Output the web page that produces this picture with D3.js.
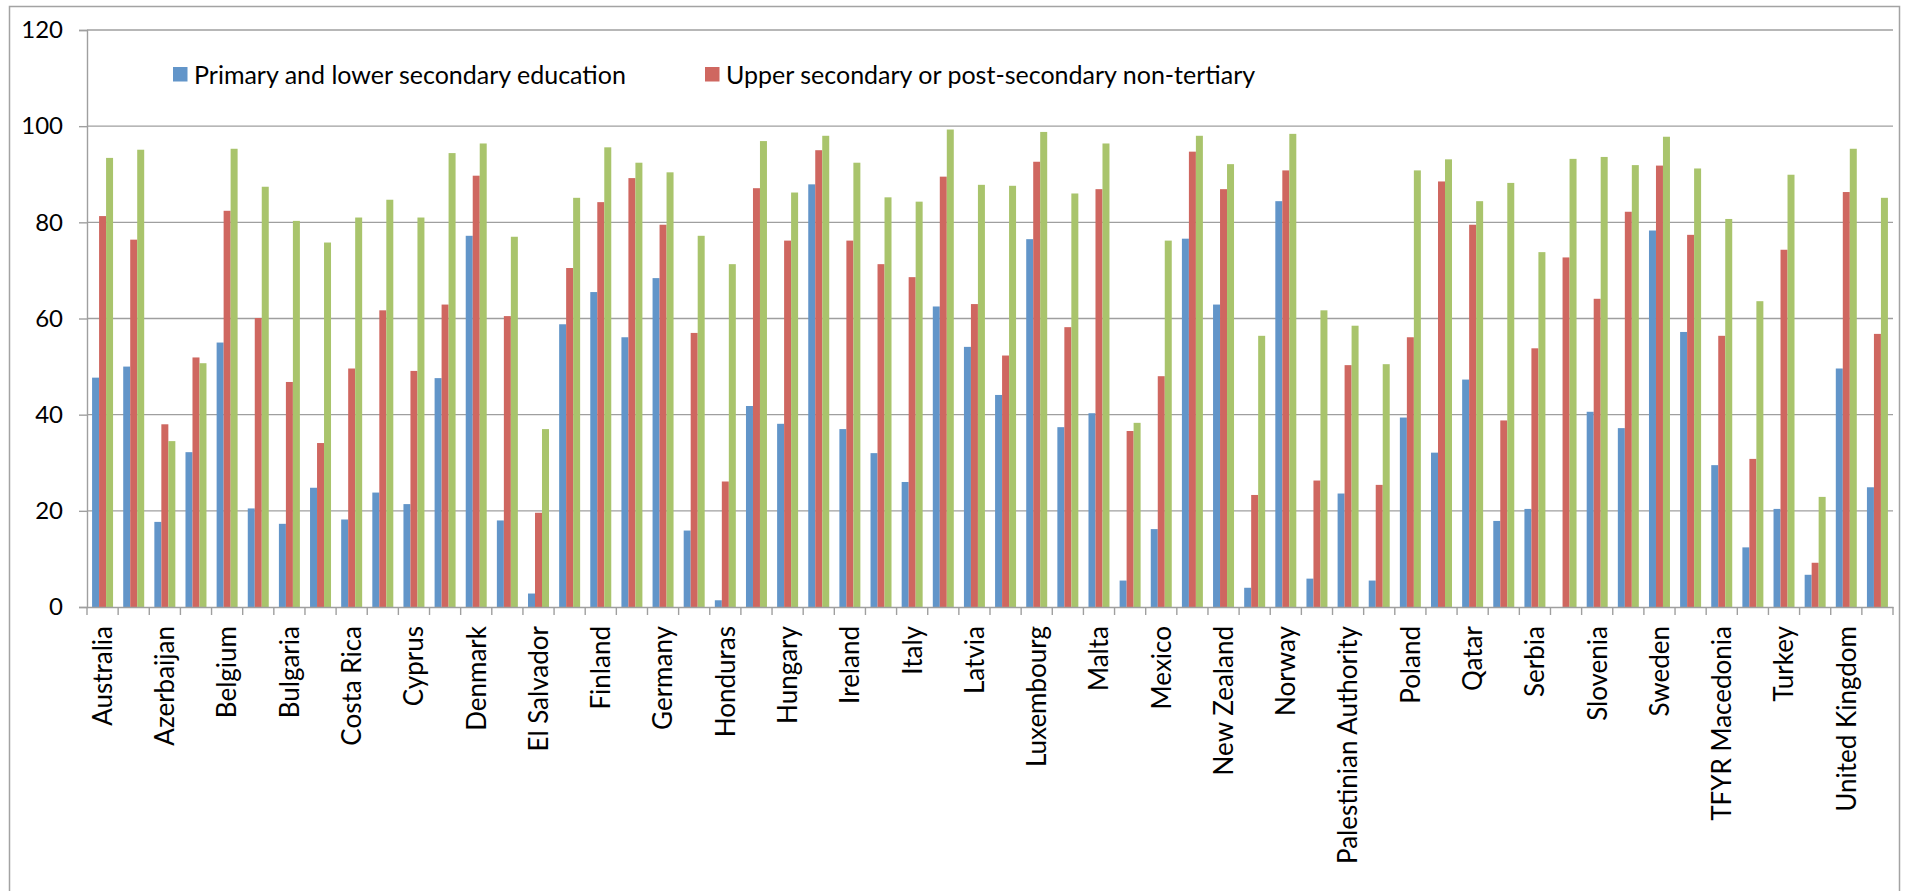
<!DOCTYPE html>
<html>
<head>
<meta charset="utf-8">
<script src="https://cdn.jsdelivr.net/npm/d3@7"></script>
<style>
  html, body { margin: 0; padding: 0; background: #ffffff; }
  svg { display: block; }
  text { font-family: Lato, "Open Sans", sans-serif; fill: #000; }
</style>
</head>
<body>
<svg id="chart" width="1905" height="891"></svg>
<script>
// Countries (every other one is labelled on the axis)
const categories = [
  "Australia", "Austria", "Azerbaijan", "Bahrain", "Belgium", "Brazil", "Bulgaria", "Chile",
  "Costa Rica", "Croatia", "Cyprus", "Czech Republic", "Denmark", "Dominican Republic",
  "El Salvador", "Estonia", "Finland", "France", "Germany", "Greece", "Honduras",
  "Hong Kong SAR", "Hungary", "Iceland", "Ireland", "Israel", "Italy", "Japan", "Latvia",
  "Lithuania", "Luxembourg", "Malaysia", "Malta", "Mauritius", "Mexico", "Netherlands",
  "New Zealand", "Nicaragua", "Norway", "Pakistan", "Palestinian Authority", "Paraguay",
  "Poland", "Portugal", "Qatar", "Romania", "Serbia", "Slovak Republic", "Slovenia", "Spain",
  "Sweden", "Switzerland", "TFYR Macedonia", "Thailand", "Turkey", "Uganda",
  "United Kingdom", "United States"
];

// Primary and lower secondary education
const primary = [
  47.7, 50.0, 17.7, 32.2, 55.0, 20.5, 17.3, 24.8, 18.2, 23.8,
  21.4, 47.6, 77.2, 18.0, 2.8, 58.8, 65.5, 56.1, 68.4, 15.9,
  1.4, 41.8, 38.1, 87.9, 37.0, 32.0, 26.0, 62.5, 54.1, 44.1,
  76.5, 37.4, 40.3, 5.5, 16.2, 76.6, 62.9, 4.0, 84.4, 5.9,
  23.6, 5.5, 39.4, 32.1, 47.3, 17.9, 20.4, null, 40.6, 37.2,
  78.3, 57.2, 29.5, 12.4, 20.4, 6.7, 49.6, 24.9
];

// Upper secondary or post-secondary non-tertiary
const upper = [
  81.3, 76.4, 38.0, 51.9, 82.4, 60.1, 46.8, 34.1, 49.6, 61.7,
  49.1, 62.9, 89.7, 60.5, 19.6, 70.5, 84.2, 89.2, 79.5, 57.0,
  26.1, 87.1, 76.2, 95.0, 76.2, 71.3, 68.6, 89.5, 63.0, 52.3,
  92.6, 58.2, 86.9, 36.6, 48.0, 94.7, 86.9, 23.3, 90.8, 26.3,
  50.3, 25.4, 56.1, 88.5, 79.5, 38.8, 53.8, 72.7, 64.1, 82.2,
  91.8, 77.4, 56.4, 30.8, 74.3, 9.2, 86.3, 56.8
];

// Tertiary education
const tertiary = [
  93.4, 95.1, 34.5, 50.7, 95.3, 87.4, 80.3, 75.8, 81.0, 84.7,
  81.0, 94.4, 96.4, 77.0, 37.0, 85.1, 95.6, 92.4, 90.4, 77.2,
  71.3, 96.9, 86.2, 98.0, 92.4, 85.2, 84.3, 99.3, 87.8, 87.6,
  98.8, 86.0, 96.4, 38.3, 76.2, 98.0, 92.1, 56.4, 98.4, 61.7,
  58.5, 50.5, 90.8, 93.1, 84.4, 88.2, 73.8, 93.2, 93.6, 91.9,
  97.8, 91.2, 80.7, 63.6, 89.9, 22.9, 95.3, 85.1
];

const seriesKeys = ["primary", "upper", "tertiary"];
const seriesValues = [primary, upper, tertiary];
const seriesColors = ["#6295c9", "#cf6760", "#a9c46c"];
const legendLabels = [
  "Primary and lower secondary education",
  "Upper secondary or post-secondary non-tertiary"
];
const yTicks = [0, 20, 40, 60, 80, 100, 120];

const svg = d3.select("#chart");
const W = 1905, H = 891;
const plot = { left: 87, right: 1893, top: 30, bottom: 607 };
const gridColor = "#9f9f9f";

svg.append("rect").attr("width", W).attr("height", H).attr("fill", "#fff");

// Outer chart frame
svg.append("rect")
  .attr("x", 9.5).attr("y", 6.5)
  .attr("width", 1890).attr("height", 900)
  .attr("fill", "none").attr("stroke", "#a3a3a3").attr("stroke-width", 1.5);

const x0 = d3.scaleBand().domain(categories).range([plot.left, plot.right]).padding(0);
const bw = x0.bandwidth();
const x1 = d3.scaleBand().domain(seriesKeys).range([bw * 0.163, bw * 0.837]).padding(0);
const y = d3.scaleLinear().domain([0, 120]).range([plot.bottom, plot.top]);

// Horizontal gridlines
svg.append("g").selectAll("line")
  .data(yTicks.filter(d => d > 0))
  .join("line")
  .attr("x1", plot.left).attr("x2", plot.right)
  .attr("y1", d => y(d)).attr("y2", d => y(d))
  .attr("stroke", gridColor).attr("stroke-width", 1.4);

// Bars
const groups = svg.append("g").selectAll("g")
  .data(categories)
  .join("g")
  .attr("transform", d => `translate(${x0(d)},0)`);

groups.selectAll("rect")
  .data((c, i) => seriesKeys.map((k, s) => ({ key: k, value: seriesValues[s][i], color: seriesColors[s] })))
  .join("rect")
  .filter(d => d.value !== null)
  .attr("x", d => x1(d.key))
  .attr("width", x1.bandwidth())
  .attr("y", d => y(d.value))
  .attr("height", d => y(0) - y(d.value))
  .attr("fill", d => d.color);

// Y axis
const yAxis = svg.append("g")
  .attr("transform", `translate(${plot.left},0)`)
  .call(d3.axisLeft(y).tickValues(yTicks).tickSize(8).tickPadding(16).tickFormat(d3.format("d")));
yAxis.select(".domain").attr("stroke", gridColor).attr("stroke-width", 1.4);
yAxis.selectAll(".tick line").attr("stroke", gridColor).attr("stroke-width", 1.4);
yAxis.selectAll(".tick text").attr("font-size", 24).attr("font-family", "Lato, sans-serif");

// X axis: line, boundary ticks and alternate labels
const xAxis = svg.append("g")
  .attr("transform", `translate(0,${plot.bottom})`)
  .call(d3.axisBottom(x0).tickSize(0).tickFormat((d, i) => (i % 2 === 0 ? d : "")));
xAxis.select(".domain").attr("stroke", gridColor).attr("stroke-width", 1.4);
xAxis.selectAll(".tick text")
  .attr("font-size", 26)
  .attr("font-family", "Lato, sans-serif")
  .attr("text-anchor", "end")
  .attr("transform", "rotate(-90)")
  .attr("x", -19)
  .attr("y", 0)
  .attr("dy", "0.36em");

const boundaries = categories.map(c => x0(c)).concat([x0(categories[categories.length - 1]) + bw]);
xAxis.append("g").selectAll("line")
  .data(boundaries)
  .join("line")
  .attr("x1", d => d).attr("x2", d => d)
  .attr("y1", 0).attr("y2", 8)
  .attr("stroke", gridColor).attr("stroke-width", 1.4);

// Legend
const legendPos = [{ x: 173, y: 67 }, { x: 705, y: 67 }];
const legend = svg.append("g").selectAll("g")
  .data(legendLabels)
  .join("g")
  .attr("transform", (d, i) => `translate(${legendPos[i].x},${legendPos[i].y})`);
legend.append("rect")
  .attr("width", 14.5).attr("height", 14.5)
  .attr("fill", (d, i) => seriesColors[i]);
legend.append("text")
  .attr("x", 21).attr("y", 16.5)
  .attr("font-size", 25)
  .text(d => d);
</script>
</body>
</html>
